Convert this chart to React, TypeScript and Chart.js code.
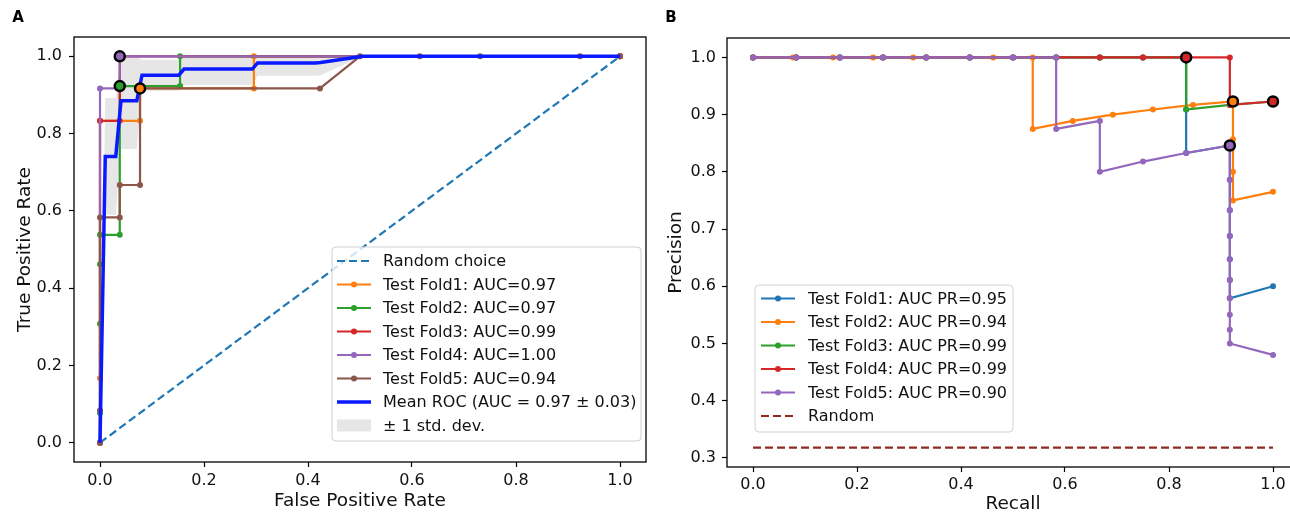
import React, { useEffect, useRef } from 'react';
import { Chart, registerables } from 'chart.js';

Chart.register(...registerables);

const FONT = "'DejaVu Sans', sans-serif";

// ---------- Panel A: ROC ----------
const rocTicksX = [0, 0.2, 0.4, 0.6, 0.8, 1.0];
const rocTicksY = [0, 0.2, 0.4, 0.6, 0.8, 1.0];
const randomChoiceX = [0, 1];
const randomChoiceY = [0, 1];

const rocFold1Fpr = [0, 0, 0, 0.077, 0.077, 0.296, 0.296, 1.0];
const rocFold1Tpr = [0, 0.167, 0.833, 0.833, 0.917, 0.917, 1.0, 1.0];
const rocFold2Fpr = [0, 0, 0, 0, 0, 0.038, 0.038, 0.154, 0.154, 1.0];
const rocFold2Tpr = [0, 0.077, 0.308, 0.462, 0.538, 0.538, 0.923, 0.923, 1.0, 1.0];
const rocFold3Fpr = [0, 0, 0.038, 0.038, 1.0];
const rocFold3Tpr = [0, 0.833, 0.833, 1.0, 1.0];
const rocFold4Fpr = [0, 0, 0.038, 0.038, 1.0];
const rocFold4Tpr = [0, 0.917, 0.917, 1.0, 1.0];
const rocFold5Fpr = [0, 0, 0, 0.038, 0.038, 0.077, 0.077, 0.423, 0.5, 0.615, 0.731, 0.923, 1.0];
const rocFold5Tpr = [0, 0.083, 0.583, 0.583, 0.667, 0.667, 0.917, 0.917, 1.0, 1.0, 1.0, 1.0, 1.0];

const meanFpr = [0, 0.0101, 0.0303, 0.0404, 0.0707, 0.0808, 0.1515, 0.1616, 0.2929, 0.303, 0.4141, 0.4242, 0.5051, 1.0];
const meanTpr = [0, 0.741, 0.741, 0.885, 0.885, 0.951, 0.951, 0.967, 0.967, 0.983, 0.983, 0.984, 1.0, 1.0];
const stdUpper = [0, 0.892, 0.892, 1.0, 1.0, 0.991, 0.991, 1.0, 1.0, 1.0, 1.0, 1.0, 1.0, 1.0];
const stdLower = [0, 0.59, 0.59, 0.76, 0.76, 0.911, 0.911, 0.926, 0.926, 0.95, 0.95, 0.951, 1.0, 1.0];

const rocOptFpr = [0.038, 0.038, 0.077];
const rocOptTpr = [1.0, 0.923, 0.917];

const rocLabels = [
  'Random choice',
  'Test Fold1: AUC=0.97',
  'Test Fold2: AUC=0.97',
  'Test Fold3: AUC=0.99',
  'Test Fold4: AUC=1.00',
  'Test Fold5: AUC=0.94',
  'Mean ROC (AUC = 0.97 \u00b1 0.03)',
  '\u00b1 1 std. dev.',
];

// ---------- Panel B: PR ----------
const prTicksX = [0, 0.2, 0.4, 0.6, 0.8, 1.0];
const prTicksY = [0.3, 0.4, 0.5, 0.6, 0.7, 0.8, 0.9, 1.0];
const randomPrecision = 0.318;

const prFold1Recall = [0, 0.083, 0.167, 0.25, 0.333, 0.417, 0.5, 0.583, 0.667, 0.75, 0.833, 0.833, 0.833, 0.917, 0.917, 0.917, 0.917, 0.917, 0.917, 0.917, 1.0];
const prFold1Precision = [1, 1, 1, 1, 1, 1, 1, 1, 1, 1, 1, 0.909, 0.833, 0.846, 0.786, 0.733, 0.688, 0.647, 0.611, 0.579, 0.6];
const prFold2Recall = [0, 0.077, 0.154, 0.231, 0.308, 0.462, 0.538, 0.538, 0.615, 0.692, 0.769, 0.846, 0.923, 0.923, 0.923, 0.923, 1.0];
const prFold2Precision = [1, 1, 1, 1, 1, 1, 1, 0.875, 0.889, 0.9, 0.909, 0.917, 0.923, 0.857, 0.8, 0.75, 0.765];
const prFold3Recall = [0, 0.083, 0.167, 0.25, 0.333, 0.417, 0.5, 0.583, 0.667, 0.75, 0.833, 0.833, 0.917, 1.0];
const prFold3Precision = [1, 1, 1, 1, 1, 1, 1, 1, 1, 1, 1, 0.909, 0.917, 0.923];
const prFold4Recall = [0, 0.083, 0.167, 0.25, 0.333, 0.417, 0.5, 0.583, 0.667, 0.75, 0.833, 0.917, 0.917, 1.0];
const prFold4Precision = [1, 1, 1, 1, 1, 1, 1, 1, 1, 1, 1, 1, 0.917, 0.923];
const prFold5Recall = [0, 0.083, 0.167, 0.25, 0.333, 0.417, 0.5, 0.583, 0.583, 0.667, 0.667, 0.75, 0.833, 0.917, 0.917, 0.917, 0.917, 0.917, 0.917, 0.917, 0.917, 0.917, 0.917, 1.0];
const prFold5Precision = [1, 1, 1, 1, 1, 1, 1, 1, 0.875, 0.889, 0.8, 0.818, 0.833, 0.846, 0.786, 0.733, 0.688, 0.647, 0.611, 0.579, 0.55, 0.524, 0.5, 0.48];

const prOptRecall = [0.833, 0.923, 1.0, 0.917];
const prOptPrecision = [1.0, 0.923, 0.923, 0.846];

const prLabels = [
  'Test Fold1: AUC PR=0.95',
  'Test Fold2: AUC PR=0.94',
  'Test Fold3: AUC PR=0.99',
  'Test Fold4: AUC PR=0.99',
  'Test Fold5: AUC PR=0.90',
  'Random',
];

// ---------- styling ----------
const C_BLUE = '#1f77b4';
const C_ORANGE = '#ff7f0e';
const C_GREEN = '#2ca02c';
const C_RED = '#d62728';
const C_PURPLE = '#9467bd';
const C_BROWN = '#8c564b';
const C_MEAN = '#0a1aff';
const C_RANDOM_PR = '#902a20';
const C_BAND = 'rgba(128,128,128,0.2)';
const TEXT = '#111111';
const LEGEND_FONT = 16;
const TICK_FONT = 16;
const TITLE_FONT = 18.5;

const zip = (xs: number[], ys: number[]) => xs.map((x, i) => ({ x, y: ys[i] }));

function foldLine(xs: number[], ys: number[], color: string) {
  return {
    data: zip(xs, ys),
    borderColor: color,
    backgroundColor: color,
    borderWidth: 2.2,
    pointRadius: 3,
    pointBorderWidth: 0,
    pointBackgroundColor: color,
    fill: false,
  };
}

type LegendItem = { label: string; color: string; lw?: number; dash?: number[]; marker?: boolean; patch?: boolean };
type LegendBox = { x: number; y: number; w: number; h: number; row0: number; step: number; sx0: number; sx1: number; tx: number };

function drawLegend(ctx: CanvasRenderingContext2D, b: LegendBox, items: LegendItem[]) {
  ctx.save();
  ctx.beginPath();
  const r = 4;
  ctx.moveTo(b.x + r, b.y);
  ctx.lineTo(b.x + b.w - r, b.y);
  ctx.quadraticCurveTo(b.x + b.w, b.y, b.x + b.w, b.y + r);
  ctx.lineTo(b.x + b.w, b.y + b.h - r);
  ctx.quadraticCurveTo(b.x + b.w, b.y + b.h, b.x + b.w - r, b.y + b.h);
  ctx.lineTo(b.x + r, b.y + b.h);
  ctx.quadraticCurveTo(b.x, b.y + b.h, b.x, b.y + b.h - r);
  ctx.lineTo(b.x, b.y + r);
  ctx.quadraticCurveTo(b.x, b.y, b.x + r, b.y);
  ctx.closePath();
  ctx.fillStyle = 'rgba(255,255,255,0.8)';
  ctx.fill();
  ctx.strokeStyle = '#d0d0d0';
  ctx.lineWidth = 1;
  ctx.stroke();
  items.forEach((it, i) => {
    const y = b.row0 + i * b.step;
    if (it.patch) {
      ctx.fillStyle = C_BAND;
      ctx.fillRect(b.sx0, y - 6, b.sx1 - b.sx0, 12);
    } else {
      ctx.beginPath();
      ctx.setLineDash(it.dash || []);
      ctx.strokeStyle = it.color;
      ctx.lineWidth = it.lw || 2.2;
      ctx.moveTo(b.sx0, y);
      ctx.lineTo(b.sx1, y);
      ctx.stroke();
      ctx.setLineDash([]);
      if (it.marker) {
        ctx.beginPath();
        ctx.fillStyle = it.color;
        ctx.arc((b.sx0 + b.sx1) / 2, y, 3, 0, Math.PI * 2);
        ctx.fill();
      }
    }
    ctx.fillStyle = TEXT;
    ctx.font = `${LEGEND_FONT}px ${FONT}`;
    ctx.textBaseline = 'middle';
    ctx.textAlign = 'left';
    ctx.fillText(it.label, b.tx, y + 1);
  });
  ctx.restore();
}

function makeScale(min: number, max: number, ticks: number[], title: string, horizontal: boolean, size: number, tickPad: number, titlePad: any) {
  return {
    type: 'linear',
    min,
    max,
    afterBuildTicks: (s: any) => {
      s.ticks = ticks.map((v) => ({ value: v }));
    },
    afterFit: (s: any) => {
      if (horizontal) s.height = size;
      else s.width = size;
    },
    ticks: {
      callback: (v: any) => Number(v).toFixed(1),
      font: { family: FONT, size: TICK_FONT },
      color: TEXT,
      padding: tickPad,
      maxRotation: 0,
      autoSkip: false,
    },
    grid: { display: true, drawOnChartArea: false, drawTicks: true, tickLength: 5, tickColor: '#000', tickWidth: 1.2 },
    border: { display: false },
    title: { display: true, text: title, font: { family: FONT, size: TITLE_FONT }, color: TEXT, padding: titlePad },
  };
}

function overlayPlugin(letter: string, letterX: number, legendBox: LegendBox, legendItems: LegendItem[]) {
  return {
    id: 'overlay_' + letter,
    afterDraw(chart: any) {
      const { ctx, chartArea: a } = chart;
      ctx.save();
      ctx.strokeStyle = '#000';
      ctx.lineWidth = 1.3;
      ctx.strokeRect(a.left, a.top, a.right - a.left, a.bottom - a.top);
      ctx.fillStyle = '#000';
      ctx.font = `bold 15px ${FONT}`;
      ctx.textAlign = 'center';
      ctx.textBaseline = 'middle';
      ctx.fillText(letter, letterX, 18);
      ctx.restore();
      drawLegend(ctx, legendBox, legendItems);
    },
  };
}

function withOrder(ds: any[]) {
  return ds.map((d, i) => ({ ...d, order: ds.length - i }));
}

function rocConfig(): any {
  const datasets = withOrder([
    {
      data: zip(meanFpr, stdUpper),
      borderColor: 'transparent',
      borderWidth: 0,
      pointRadius: 0,
      fill: false,
    },
    {
      data: zip(meanFpr, stdLower),
      borderColor: 'transparent',
      borderWidth: 0,
      pointRadius: 0,
      fill: '-1',
      backgroundColor: C_BAND,
    },
    {
      data: zip(randomChoiceX, randomChoiceY),
      borderColor: C_BLUE,
      borderWidth: 2.2,
      borderDash: [8, 4],
      pointRadius: 0,
      fill: false,
    },
    foldLine(rocFold1Fpr, rocFold1Tpr, C_ORANGE),
    foldLine(rocFold2Fpr, rocFold2Tpr, C_GREEN),
    foldLine(rocFold3Fpr, rocFold3Tpr, C_RED),
    foldLine(rocFold4Fpr, rocFold4Tpr, C_PURPLE),
    foldLine(rocFold5Fpr, rocFold5Tpr, C_BROWN),
    {
      data: zip(meanFpr, meanTpr),
      borderColor: C_MEAN,
      borderWidth: 3.5,
      pointRadius: 0,
      fill: false,
    },
    {
      data: zip(rocOptFpr, rocOptTpr),
      showLine: false,
      pointRadius: 5,
      pointBorderWidth: 2.5,
      pointBorderColor: '#000',
      pointBackgroundColor: [C_PURPLE, C_GREEN, C_ORANGE],
      borderColor: 'transparent',
      fill: false,
    },
  ]);
  const legendItems: LegendItem[] = [
    { label: rocLabels[0], color: C_BLUE, dash: [8, 4] },
    { label: rocLabels[1], color: C_ORANGE, marker: true },
    { label: rocLabels[2], color: C_GREEN, marker: true },
    { label: rocLabels[3], color: C_RED, marker: true },
    { label: rocLabels[4], color: C_PURPLE, marker: true },
    { label: rocLabels[5], color: C_BROWN, marker: true },
    { label: rocLabels[6], color: C_MEAN, lw: 3.5 },
    { label: rocLabels[7], color: C_BAND, patch: true },
  ];
  const box: LegendBox = { x: 332, y: 247, w: 309, h: 194, row0: 261, step: 23.5, sx0: 337, sx1: 371, tx: 383 };
  return {
    type: 'line',
    data: { datasets },
    options: {
      responsive: false,
      animation: false,
      layout: { padding: { left: 0, top: 37, right: 14, bottom: 0 } },
      plugins: { legend: { display: false }, tooltip: { enabled: false } },
      scales: {
        x: makeScale(-0.05, 1.05, rocTicksX, 'False Positive Rate', true, 53, 4, { top: 0, bottom: 3 }),
        y: makeScale(-0.05, 1.05, rocTicksY, 'True Positive Rate', false, 74, 7, { top: 14, bottom: 0 }),
      },
    },
    plugins: [overlayPlugin('A', 18, box, legendItems)],
  };
}

function prConfig(): any {
  const datasets = withOrder([
    foldLine(prFold1Recall, prFold1Precision, C_BLUE),
    foldLine(prFold2Recall, prFold2Precision, C_ORANGE),
    foldLine(prFold3Recall, prFold3Precision, C_GREEN),
    foldLine(prFold4Recall, prFold4Precision, C_RED),
    foldLine(prFold5Recall, prFold5Precision, C_PURPLE),
    {
      data: zip([0, 1], [randomPrecision, randomPrecision]),
      borderColor: C_RANDOM_PR,
      borderWidth: 2.2,
      borderDash: [8, 4],
      pointRadius: 0,
      fill: false,
    },
    {
      data: zip(prOptRecall, prOptPrecision),
      showLine: false,
      pointRadius: 5,
      pointBorderWidth: 2.5,
      pointBorderColor: '#000',
      pointBackgroundColor: [C_RED, C_ORANGE, C_RED, C_PURPLE],
      borderColor: 'transparent',
      fill: false,
    },
  ]);
  const legendItems: LegendItem[] = [
    { label: prLabels[0], color: C_BLUE, marker: true },
    { label: prLabels[1], color: C_ORANGE, marker: true },
    { label: prLabels[2], color: C_GREEN, marker: true },
    { label: prLabels[3], color: C_RED, marker: true },
    { label: prLabels[4], color: C_PURPLE, marker: true },
    { label: prLabels[5], color: C_RANDOM_PR, dash: [8, 4] },
  ];
  const box: LegendBox = { x: 95, y: 285, w: 258, h: 147, row0: 298.5, step: 23.5, sx0: 101, sx1: 135, tx: 148 };
  return {
    type: 'line',
    data: { datasets },
    options: {
      responsive: false,
      animation: false,
      layout: { padding: { left: 0, top: 38, right: 21, bottom: 0 } },
      plugins: { legend: { display: false }, tooltip: { enabled: false } },
      scales: {
        x: makeScale(-0.05, 1.05, prTicksX, 'Recall', true, 48, 3, { top: 0, bottom: 0 }),
        y: makeScale(0.284, 1.034, prTicksY, 'Precision', false, 67, 6, { top: 5, bottom: 0 }),
      },
    },
    plugins: [overlayPlugin('B', 11, box, legendItems)],
  };
}

function Panel({ left, width, make }: { left: number; width: number; make: () => any }) {
  const ref = useRef<HTMLCanvasElement | null>(null);
  useEffect(() => {
    if (!ref.current) return;
    const chart = new Chart(ref.current, make());
    return () => chart.destroy();
  }, []);
  return (
    <canvas
      ref={ref}
      width={width}
      height={515}
      style={{ position: 'absolute', left, top: 0, width, height: 515 }}
    />
  );
}

export default function App() {
  return (
    <div
      style={{
        position: 'fixed',
        left: 0,
        top: 0,
        width: 1290,
        height: 515,
        overflow: 'hidden',
        background: '#ffffff',
      }}
    >
      <Panel left={0} width={660} make={rocConfig} />
      <Panel left={660} width={660} make={prConfig} />
    </div>
  );
}
